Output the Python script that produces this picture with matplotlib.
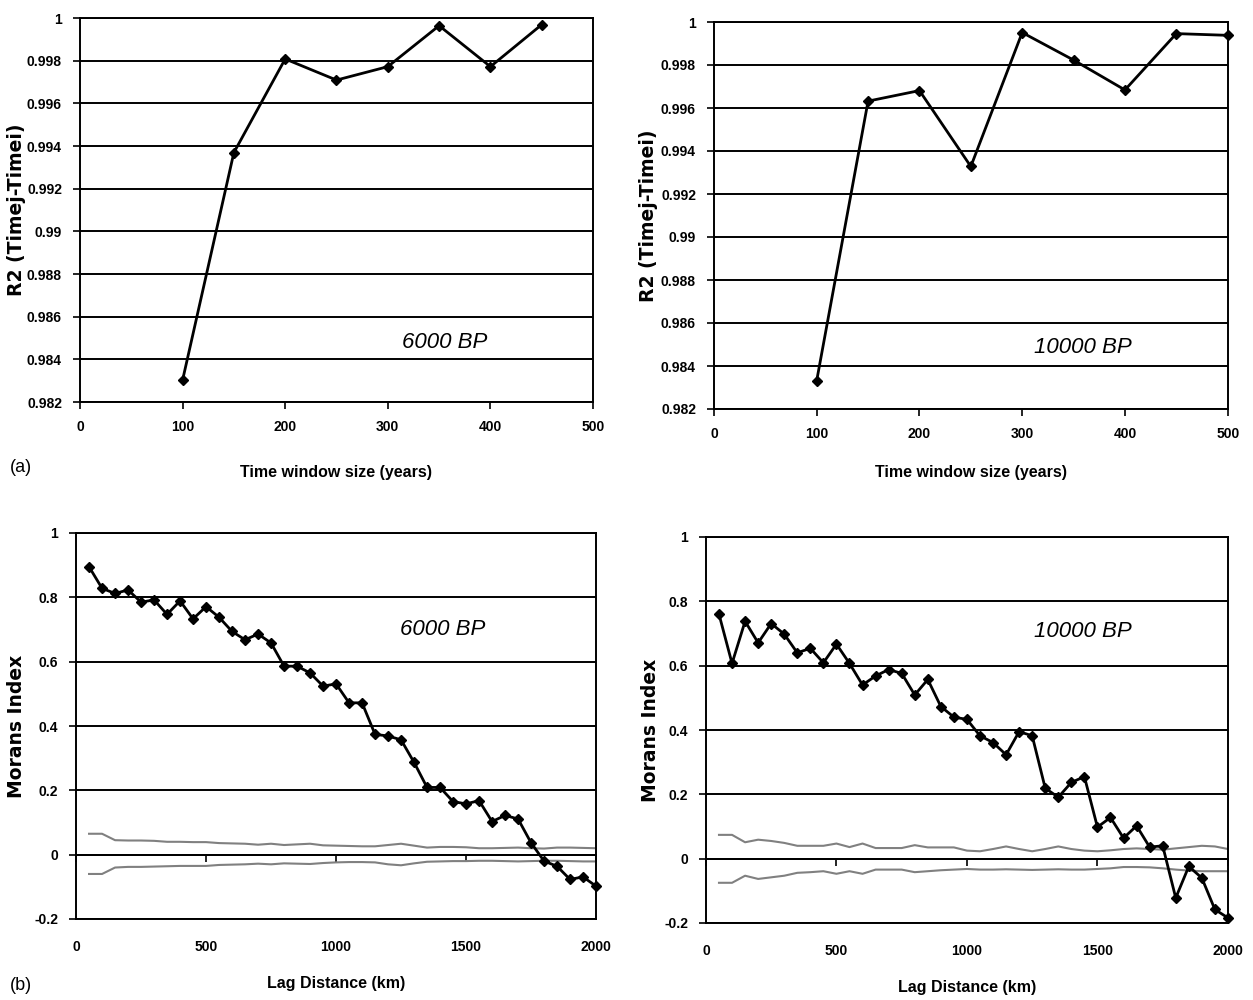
import matplotlib
matplotlib.use("Agg")
import matplotlib.pyplot as plt

plt.rcParams['font.family'] = ['Liberation Sans', 'DejaVu Sans']

# (a) R2 vs time window size
window_6k = [100, 150, 200, 250, 300, 350, 400, 450]
r2_6k = [0.98302, 0.99369, 0.99808, 0.99709, 0.99772, 0.99964, 0.99772, 0.99969]

window_10k = [100, 150, 200, 250, 300, 350, 400, 450, 500]
r2_10k = [0.98332, 0.99632, 0.99681, 0.99328, 0.99951, 0.99823, 0.99684, 0.99946, 0.99938]

r2_ticks = [0.982, 0.984, 0.986, 0.988, 0.99, 0.992, 0.994, 0.996, 0.998, 1.0]
r2_ticklabels = ['0.982', '0.984', '0.986', '0.988', '0.99', '0.992', '0.994', '0.996', '0.998', '1']
window_ticks = [0, 100, 200, 300, 400, 500]

# (b) Moran's I correlograms
lags = [50, 100, 150, 200, 250, 300, 350, 400, 450, 500,
        550, 600, 650, 700, 750, 800, 850, 900, 950, 1000,
        1050, 1100, 1150, 1200, 1250, 1300, 1350, 1400, 1450, 1500,
        1550, 1600, 1650, 1700, 1750, 1800, 1850, 1900, 1950, 2000]

moran_6k = [0.895, 0.828, 0.812, 0.823, 0.785, 0.792, 0.747, 0.789, 0.733, 0.771,
            0.738, 0.694, 0.668, 0.686, 0.658, 0.586, 0.586, 0.565, 0.524, 0.531,
            0.472, 0.472, 0.374, 0.369, 0.357, 0.287, 0.209, 0.209, 0.165, 0.158,
            0.168, 0.103, 0.122, 0.111, 0.037, -0.020, -0.036, -0.077, -0.069, -0.098]
upper_6k = [0.065, 0.065, 0.045, 0.044, 0.044, 0.043, 0.040, 0.040, 0.039, 0.039,
            0.036, 0.035, 0.034, 0.031, 0.034, 0.030, 0.032, 0.034, 0.029, 0.028,
            0.027, 0.026, 0.026, 0.030, 0.034, 0.028, 0.022, 0.024, 0.024, 0.023,
            0.020, 0.020, 0.021, 0.022, 0.020, 0.019, 0.022, 0.022, 0.021, 0.020]
lower_6k = [-0.060, -0.060, -0.040, -0.038, -0.038, -0.037, -0.036, -0.035, -0.035, -0.035,
            -0.032, -0.031, -0.030, -0.028, -0.030, -0.027, -0.028, -0.029, -0.026, -0.024,
            -0.023, -0.023, -0.024, -0.030, -0.033, -0.027, -0.022, -0.021, -0.020, -0.020,
            -0.019, -0.019, -0.020, -0.021, -0.020, -0.019, -0.019, -0.020, -0.021, -0.021]

moran_10k = [0.760, 0.607, 0.738, 0.671, 0.731, 0.698, 0.640, 0.654, 0.609, 0.667,
             0.607, 0.540, 0.568, 0.588, 0.576, 0.509, 0.557, 0.473, 0.440, 0.433,
             0.382, 0.361, 0.323, 0.395, 0.382, 0.219, 0.191, 0.237, 0.255, 0.098,
             0.128, 0.064, 0.102, 0.036, 0.040, -0.122, -0.024, -0.060, -0.158, -0.184]
upper_10k = [0.074, 0.074, 0.051, 0.059, 0.055, 0.049, 0.040, 0.040, 0.040, 0.047,
             0.036, 0.047, 0.033, 0.033, 0.033, 0.042, 0.035, 0.035, 0.035, 0.025,
             0.023, 0.030, 0.038, 0.030, 0.023, 0.030, 0.038, 0.030, 0.025, 0.023,
             0.026, 0.030, 0.032, 0.030, 0.028, 0.032, 0.036, 0.040, 0.038, 0.030]
lower_10k = [-0.075, -0.075, -0.053, -0.063, -0.058, -0.053, -0.044, -0.042, -0.039, -0.047,
             -0.039, -0.047, -0.034, -0.034, -0.034, -0.042, -0.039, -0.036, -0.034, -0.032,
             -0.034, -0.034, -0.033, -0.034, -0.035, -0.034, -0.033, -0.034, -0.034, -0.032,
             -0.030, -0.026, -0.026, -0.027, -0.030, -0.034, -0.037, -0.039, -0.039, -0.039]

moran_ticks = [-0.2, 0, 0.2, 0.4, 0.6, 0.8, 1.0]
moran_ticklabels = ['-0.2', '0', '0.2', '0.4', '0.6', '0.8', '1']
lag_ticks = [0, 500, 1000, 1500, 2000]

fig = plt.figure(figsize=(12.53, 10), dpi=100)

tick_font = dict(fontsize=10, fontweight='bold')
xlabel_font = dict(fontsize=11.5, fontweight='bold')
ylabel_font = dict(fontsize=13.5, fontweight='bold', family='DejaVu Sans')
note_font = dict(fontsize=16, style='italic')


def style_axes(ax, yticks, yticklabels, xticks):
    ax.set_yticks(yticks)
    ax.set_yticklabels(yticklabels, **tick_font)
    ax.set_xticks(xticks)
    ax.set_xticklabels([str(t) for t in xticks], **tick_font)
    ax.set_ylim(yticks[0], yticks[-1])
    ax.set_xlim(xticks[0], xticks[-1])
    ax.grid(axis='y', color='black', linewidth=1.4)
    ax.set_axisbelow(True)
    for s in ax.spines.values():
        s.set_linewidth(1.4)
    ax.tick_params(axis='both', direction='out', length=5, width=1.2, pad=8)


# top left
ax1 = fig.add_axes([0.0638, 0.598, 0.4095, 0.384])
style_axes(ax1, r2_ticks, r2_ticklabels, window_ticks)
ax1.plot(window_6k, r2_6k, color='black', linewidth=2, marker='D', markersize=5.5)
ax1.set_xlabel('Time window size (years)', labelpad=22, **xlabel_font)
ax1.set_ylabel('R2 (Timej-Timei)', **ylabel_font)
ax1.yaxis.set_label_coords(-0.105, 0.5)
ax1.text(0.71, 0.154, '6000 BP', transform=ax1.transAxes, ha='center', va='center', **note_font)

# top right
ax2 = fig.add_axes([0.5698, 0.591, 0.410, 0.387])
style_axes(ax2, r2_ticks, r2_ticklabels, window_ticks)
ax2.plot(window_10k, r2_10k, color='black', linewidth=2, marker='D', markersize=5.5, clip_on=False)
ax2.set_xlabel('Time window size (years)', labelpad=17, **xlabel_font)
ax2.set_ylabel('R2 (Timej-Timei)', **ylabel_font)
ax2.yaxis.set_label_coords(-0.109, 0.5)
ax2.text(0.718, 0.16, '10000 BP', transform=ax2.transAxes, ha='center', va='center', **note_font)

# bottom panels
panels_b = [
    ([0.0607, 0.081, 0.415, 0.386], moran_6k, upper_6k, lower_6k, '6000 BP', (0.705, 0.749), -0.096),
    ([0.5634, 0.077, 0.4166, 0.386], moran_10k, upper_10k, lower_10k, '10000 BP', (0.722, 0.754), -0.088),
]
for rect, moran, upper, lower, note, pos, ylab_x in panels_b:
    ax = fig.add_axes(rect)
    style_axes(ax, moran_ticks, moran_ticklabels, lag_ticks)
    ax.tick_params(axis='x', length=0, pad=15)
    ax.plot(lags, upper, color='0.5', linewidth=1.5)
    ax.plot(lags, lower, color='0.5', linewidth=1.5)
    ax.plot(lags, moran, color='black', linewidth=2, marker='D', markersize=5.5, clip_on=False)
    # x axis crossing at zero, with tick marks only
    sec = ax.secondary_xaxis((0 - moran_ticks[0]) / (moran_ticks[-1] - moran_ticks[0]))
    sec.set_xticks(lag_ticks)
    sec.set_xticklabels([])
    sec.tick_params(direction='out', length=5, width=1.2)
    sec.spines['bottom'].set_linewidth(1.4)
    ax.set_xlabel('Lag Distance (km)', labelpad=16, **xlabel_font)
    ax.set_ylabel('Morans Index', **ylabel_font)
    ax.yaxis.set_label_coords(ylab_x, 0.5)
    ax.text(pos[0], pos[1], note, transform=ax.transAxes, ha='center', va='center', **note_font)

fig.text(0.008, 0.532, '(a)', fontsize=13, va='center')
fig.text(0.008, 0.015, '(b)', fontsize=13, va='center')

fig.savefig('out.png', dpi=100)
